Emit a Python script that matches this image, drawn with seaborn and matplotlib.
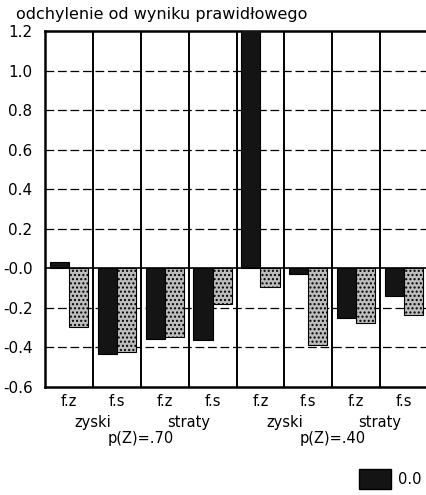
import matplotlib
matplotlib.use("Agg")
import matplotlib.pyplot as plt
import matplotlib.transforms as mtransforms
from matplotlib.patches import Patch
import seaborn as sns
import pandas as pd

# ---- data ----
categories = ["z70 f.z", "z70 f.s", "s70 f.z", "s70 f.s",
              "z40 f.z", "z40 f.s", "s40 f.z", "s40 f.s"]
tick_labels = ["f.z", "f.s", "f.z", "f.s", "f.z", "f.s", "f.z", "f.s"]
pair_labels = ["zyski", "straty", "zyski", "straty"]
prob_labels = ["p(Z)=.70", "p(Z)=.40"]
series_names = ["0.0", "inne"]
dark_values = [0.03, -0.435, -0.355, -0.36, 1.25, -0.03, -0.25, -0.14]
light_values = [-0.295, -0.425, -0.345, -0.18, -0.095, -0.39, -0.275, -0.235]
y_ticks = [-0.6, -0.4, -0.2, 0.0, 0.2, 0.4, 0.6, 0.8, 1.0, 1.2]
y_tick_labels = ["-0.6", "-0.4", "-0.2", "-0.0", "0.2", "0.4", "0.6", "0.8", "1.0", "1.2"]
title = "odchylenie od wyniku prawidłowego"

df = pd.DataFrame({
    "cat": categories * 2,
    "series": [series_names[0]] * len(categories) + [series_names[1]] * len(categories),
    "value": dark_values + light_values,
})

sns.set_theme(style="white")
plt.rcParams["font.family"] = ["DejaVu Sans"]
plt.rcParams["text.color"] = "black"
plt.rcParams["xtick.color"] = "black"
plt.rcParams["ytick.color"] = "black"

fig = plt.figure(figsize=(4.26, 4.95), dpi=100)
ax = fig.add_axes([45 / 426, (495 - 387) / 495, 383 / 426, (387 - 31) / 495])

colors = ["#141414", "#bdbdbd"]
sns.barplot(data=df, x="cat", y="value", hue="series", order=categories,
            hue_order=series_names, palette=colors, width=0.8,
            saturation=1, edgecolor="black", linewidth=0.8, ax=ax,
            legend=False, zorder=3)

# stipple texture on bars
for i, p in enumerate(ax.patches):
    if i >= len(categories):
        p.set_hatch("....")

ax.set_ylim(-0.6, 1.2)
ax.set_xlim(-0.5, len(categories) - 0.5)

# dashed grid lines
for yv in y_ticks:
    if abs(yv) > 1e-9 and -0.6 < yv < 1.2:
        ax.axhline(yv, color="black", linestyle=(0, (7, 3)), linewidth=0.9, zorder=1)
ax.axhline(0, color="black", linewidth=1.2, zorder=4)
# group separators
for i in range(len(categories) - 1):
    ax.axvline(i + 0.5, color="black", linewidth=1.4, zorder=2)

ax.set_yticks(y_ticks)
ax.set_yticklabels(y_tick_labels, fontsize=11)
ax.set_xticks(range(len(categories)))
ax.set_xticklabels(tick_labels, fontsize=10.5)
ax.tick_params(axis="y", length=0, pad=9, labelcolor="black")
ax.tick_params(axis="x", length=0, pad=5, labelcolor="black")
ax.set_xlabel("")
ax.set_ylabel("")
for s in ax.spines.values():
    s.set_color("black")
    s.set_linewidth(1.8)

trans = mtransforms.blended_transform_factory(ax.transData, fig.transFigure)
for k, lab in enumerate(pair_labels):
    ax.text(2 * k + 0.5, 1 - 422 / 495, lab, transform=trans, ha="center",
            va="center", fontsize=10.5, color="black")
for k, lab in enumerate(prob_labels):
    ax.text(4 * k + 1.5, 1 - 438 / 495, lab, transform=trans, ha="center",
            va="center", fontsize=10.5, color="black")

fig.text(16 / 426, 1 - 15 / 495, title, ha="left", va="center", fontsize=11.5,
         color="black")

leg = fig.legend(handles=[Patch(facecolor=colors[0], edgecolor="black")],
                 labels=[series_names[0]], loc="center left",
                 bbox_to_anchor=(356 / 426, 1 - 479 / 495), frameon=False,
                 fontsize=10.5, handlelength=2.2, handleheight=1.8,
                 handletextpad=0.5, borderpad=0.2, borderaxespad=0.0)
for t in leg.get_texts():
    t.set_color("black")

fig.savefig("out.png", dpi=100)
